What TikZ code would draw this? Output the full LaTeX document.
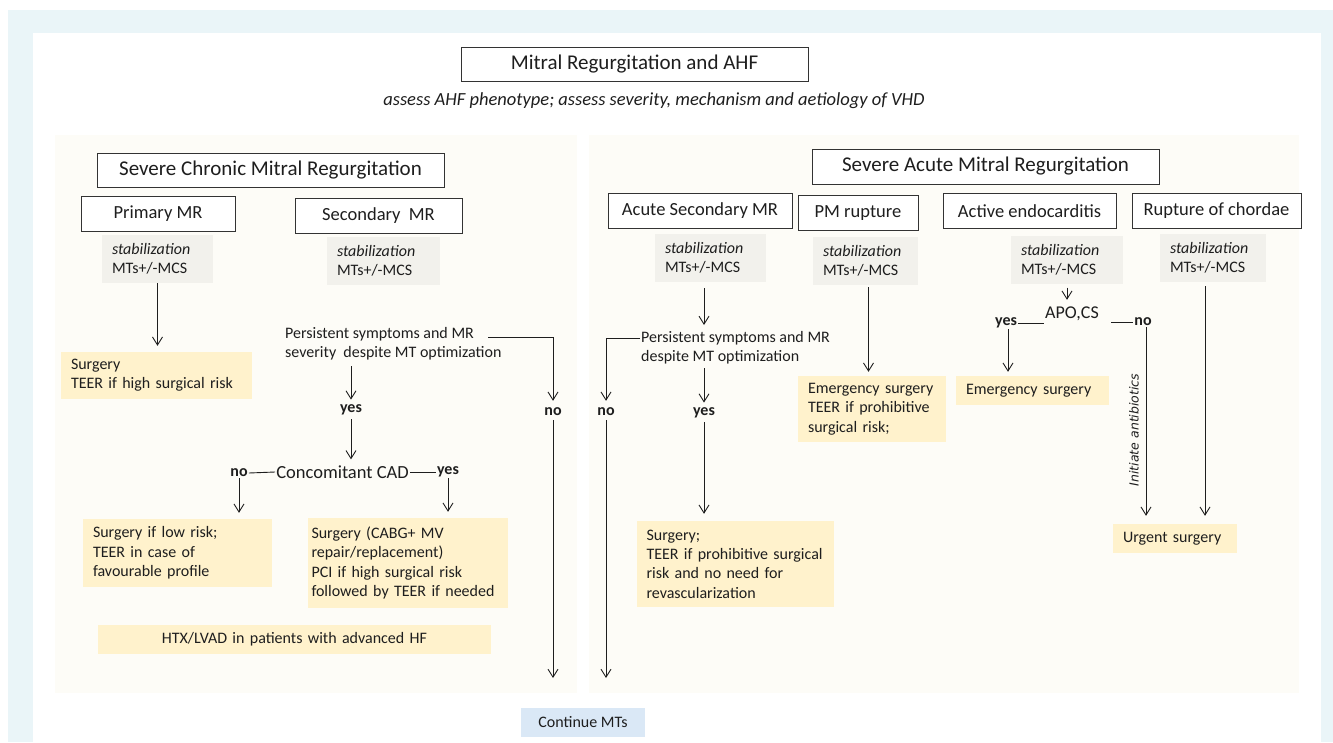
\documentclass[tikz,border=0pt]{standalone}
\usepackage{fontspec}
\setmainfont{Carlito}
\newfontfamily\obliquefont{DejaVu Sans}
\usepackage{tikz}
\usetikzlibrary{arrows.meta, positioning, calc}
\definecolor{FrameCyan}{RGB}{234,245,248}
\definecolor{PanelCream}{RGB}{253,252,247}
\definecolor{StabGray}{RGB}{242,241,236}
\definecolor{BoxYellow}{RGB}{255,242,204}
\definecolor{BoxBlue}{RGB}{218,232,246}
\definecolor{InkGray}{RGB}{30,30,30}
\newcommand{\bodyfont}{\fontsize{16}{19.3}\selectfont}
\newcommand{\headfont}{\fontsize{21}{25}\selectfont}
\newcommand{\subfont}{\fontsize{18.5}{22}\selectfont}
\tikzset{
  headbox/.style={rectangle,draw=black!80,line width=0.9pt,fill=white,
    font=\headfont,text=InkGray,inner sep=0pt,minimum height=34pt},
  subbox/.style={rectangle,draw=black!80,line width=0.9pt,fill=white,
    font=\subfont,text=InkGray,inner sep=0pt,minimum height=35pt},
  stabbox/.style={rectangle,fill=StabGray,font=\bodyfont,text=InkGray,align=left,
    inner xsep=10pt,inner ysep=0pt,minimum height=48pt,text width=#1},
  treatbox/.style={rectangle,fill=BoxYellow,font=\bodyfont,text=InkGray,align=left,
    inner xsep=10pt,inner ysep=0pt,text width=#1},
  note/.style={font=\bodyfont,text=InkGray,align=left,inner sep=0pt},
  answer/.style={font=\bodyfont\bfseries,text=InkGray,inner sep=1pt},
  arrow/.style={-{Straight Barb[length=8pt,width=10pt]},line width=0.9pt,color=InkGray},
  link/.style={line width=0.9pt,color=InkGray}
}
\begin{document}
\begin{tikzpicture}[x=1pt,y=-1pt]
  \useasboundingbox (0,0) rectangle (1333,742);
  \fill[FrameCyan] (8,10) rectangle (1333,742);
  \fill[white] (33,33) rectangle (1321,742);
  \fill[PanelCream] (55,135) rectangle (577,693);
  \fill[PanelCream] (589,135) rectangle (1299,693);

  \node[headbox,minimum width=347pt] (title) at (634.5,64) {Mitral Regurgitation and AHF};
  \node[font=\fontsize{18.5}{22}\selectfont\itshape,text=InkGray] (assess) at (654,101)
    {assess AHF phenotype; assess severity, mechanism and aetiology of VHD};

  \node[headbox,minimum width=347pt] (chronic) at (270.5,170) {Severe Chronic Mitral Regurgitation};
  \node[subbox,minimum width=154pt] (primary) at (158,214) {Primary MR};
  \node[subbox,minimum width=167pt] (secondary) at (378.5,216) {Secondary\ \ MR};
  \node[stabbox=91pt] (stabA) at (157.5,259) {\textit{stabilization}\\MTs+/-MCS};
  \node[stabbox=93pt] (stabB) at (383.5,261) {\textit{stabilization}\\MTs+/-MCS};
  \node[treatbox=171pt,minimum height=47pt] (surgA) at (156.5,375.5) {Surgery\\TEER if high surgical risk};
  \node[note,anchor=north west] (persistA) at (285,327) {Persistent symptoms and MR\\severity\ \ despite MT optimization};
  \coordinate (persistAr) at (488,337);
  \node[answer] (noA) at (553,412) {no};
  \coordinate (contA) at (553,678);
  \node[answer] (yesA) at (351,410) {yes};
  \node[font=\subfont,text=InkGray,inner sep=1pt] (cad) at (342.5,472) {Concomitant CAD};
  \node[answer] (noB) at (239,473) {no};
  \node[answer] (yesB) at (448,472) {yes};
  \node[treatbox=169pt,minimum height=68pt] (surgB) at (177.5,553) {Surgery if low risk;\\TEER in case of\\favourable profile};
  \node[treatbox=192pt,inner xsep=4pt,minimum height=90pt] (surgC) at (407.5,563) {Surgery (CABG+ MV\\repair/replacement)\\PCI if high surgical risk\\followed by TEER if needed};
  \node[treatbox=373pt,align=center,minimum height=29pt] (htx) at (294.5,639) {HTX/LVAD in patients with advanced HF};

  \node[headbox,minimum width=347pt,minimum height=35pt] (acute) at (985.5,166.5) {Severe Acute Mitral Regurgitation};
  \node[subbox,minimum width=184pt] (acsec) at (700,211) {Acute Secondary MR};
  \node[subbox,minimum width=120pt] (pmrup) at (858,213) {PM rupture};
  \node[subbox,minimum width=173pt] (endo) at (1029.5,211) {Active endocarditis};
  \node[subbox,minimum width=169pt] (chord) at (1216.5,211) {Rupture of chordae};
  \node[stabbox=91pt] (stabC) at (710.5,258) {\textit{stabilization}\\MTs+/-MCS};
  \node[stabbox=85pt] (stabD) at (865.5,261) {\textit{stabilization}\\MTs+/-MCS};
  \node[stabbox=92pt] (stabE) at (1067,259.5) {\textit{stabilization}\\MTs+/-MCS};
  \node[stabbox=86pt] (stabF) at (1213,258) {\textit{stabilization}\\MTs+/-MCS};
  \node[note,anchor=north west] (persistB) at (641,331) {Persistent symptoms and MR\\despite MT optimization};
  \coordinate (persistBl) at (640,338);
  \node[answer] (noC) at (606,412) {no};
  \coordinate (contB) at (606,678);
  \node[answer] (yesC) at (704,413) {yes};
  \node[treatbox=177pt,minimum height=86pt] (surgD) at (735,564) {Surgery;\\TEER if prohibitive surgical\\risk and no need for\\revascularization};
  \node[treatbox=128pt,minimum height=66pt] (emergA) at (872,409) {Emergency surgery\\TEER if prohibitive\\surgical risk;};
  \node[font=\fontsize{18}{22}\selectfont,text=InkGray,inner sep=1pt] (apo) at (1072,314) {APO,CS};
  \node[answer] (yesD) at (1006,323) {yes};
  \node[answer] (noD) at (1143,322) {no};
  \node[treatbox=133pt,minimum height=29pt] (emergB) at (1032.5,390.5) {Emergency surgery};
  \node[treatbox=104pt,minimum height=29pt] (urgent) at (1175,538.5) {Urgent surgery};
  \node[font=\obliquefont\fontsize{12.5}{15}\selectfont\itshape,text=InkGray,rotate=90] (antib) at (1134,430) {Initiate antibiotics};

  \node[fill=BoxBlue,font=\bodyfont,text=InkGray,inner sep=0pt,minimum width=124pt,minimum height=29pt] (cont) at (583,722.5) {Continue MTs};

  \draw[arrow,shorten >=6pt] (stabA.south) -- (stabA.south |- surgA.north);
  \draw[arrow] (persistAr) -| ([yshift=6pt]noA.north);
  \draw[arrow] ([yshift=-3pt]noA.south) -- (contA);
  \draw[arrow,shorten <=6pt,shorten >=4pt] (persistA.south -| yesA) -- (yesA.north);
  \draw[arrow,shorten <=3pt,shorten >=5pt] (yesA.south) -- (yesA.south |- cad.north);
  \draw[link] (cad.west) -- (noB.east);
  \draw[link] (cad.east) -- (yesB.west);
  \draw[arrow,shorten >=6pt] (noB.south) -- (noB.south |- surgB.north);
  \draw[arrow,shorten >=6pt] (yesB.south) -- (yesB.south |- surgC.north);

  \draw[arrow,shorten <=6pt,shorten >=6pt] (stabC.south -| yesC) -- (persistB.north -| yesC);
  \draw[arrow] (persistBl) -| ([yshift=6pt]noC.north);
  \draw[arrow] ([yshift=-3pt]noC.south) -- (contB);
  \draw[arrow,shorten <=4pt,shorten >=4pt] (persistB.south -| yesC) -- (yesC.north);
  \draw[arrow,shorten <=3pt,shorten >=7pt] (yesC.south) -- (yesC.south |- surgD.north);
  \draw[arrow,shorten <=2pt,shorten >=4pt] ([xshift=3pt]stabD.south) -- ([xshift=3pt]stabD.south |- emergA.north);
  \draw[arrow,shorten <=4pt,shorten >=6pt] (stabE.south) -- (stabE.south |- apo.north);
  \draw[link] (yesD.east) -- (apo.west |- yesD);
  \draw[link] ($(noD.west)+(-22,0)$) -- (noD.west);
  \draw[arrow,shorten >=4pt] ([xshift=2pt]yesD.south) -- ([xshift=2pt]yesD.south |- emergB.north);
  \draw[arrow,shorten >=8pt] ([xshift=3pt]noD.south) -- ([xshift=3pt]noD.south |- urgent.north);
  \draw[arrow,shorten <=4pt,shorten >=8pt] ([xshift=-8pt]stabF.south) -- ([xshift=-8pt]stabF.south |- urgent.north);
\end{tikzpicture}
\end{document}
